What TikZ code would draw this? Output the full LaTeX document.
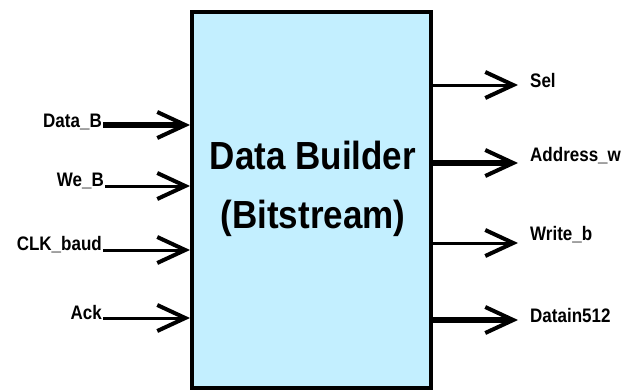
\documentclass[tikz,border=0pt]{standalone}
\usepackage{fontspec}
\setmainfont{Liberation Sans}
\usetikzlibrary{arrows.meta,positioning,calc}
\definecolor{blkfill}{HTML}{C3EFFF}

\tikzset{
  block/.style={draw=black,line width=4pt,fill=blkfill,minimum width=239pt,minimum height=376pt,inner sep=0pt},
  sig/.style={->,line width=3pt},
  bus/.style={->,line width=6pt},
  lbl/.style={font=\fontsize{17}{20}\selectfont\bfseries,inner sep=1pt,yscale=1.15},
}

\begin{document}
\begin{tikzpicture}[x=1pt,y=-1pt,>={Straight Barb[length=28pt,width=26pt,line width=4pt]}]
  \useasboundingbox (0,0) rectangle (625,391);
  % The block
  \node[block] (blk) at (311.5,200) {};
  \node[align=center,yscale=1.12,font=\fontsize{35}{53}\selectfont\bfseries] (title) at (313,189) {Data Builder\\(Bitstream)};
  % Inputs
  \coordinate (dB) at (103,125);
  \coordinate (wB) at (105,186);
  \coordinate (clk) at (103,250);
  \coordinate (ack) at (103,318);
  \node[lbl,left=0pt of dB,yshift=3pt] (dBl) {Data\_B};
  \node[lbl,left=0pt of wB,yshift=4pt] (wBl) {We\_B};
  \node[lbl,left=0pt of clk,yshift=5pt] (clkl) {CLK\_baud};
  \node[lbl,left=0pt of ack,yshift=5pt] (ackl) {Ack};
  \draw[bus] (dB) -- (dB -| blk.west);
  \draw[sig] (wB) -- (wB -| blk.west);
  \draw[sig] (clk) -- (clk -| blk.west);
  \draw[sig] (ack) -- (ack -| blk.west);
  % Outputs
  \coordinate (sel) at (518,85);
  \coordinate (adr) at (518,163);
  \coordinate (wrb) at (518,243);
  \coordinate (din) at (518,320);
  \draw[sig] (sel -| blk.east) -- (sel);
  \draw[bus] (adr -| blk.east) -- (adr);
  \draw[sig] (wrb -| blk.east) -- (wrb);
  \draw[bus] (din -| blk.east) -- (din);
  \node[lbl,right=11pt of sel,yshift=4pt] (sell) {Sel};
  \node[lbl,right=11pt of adr,yshift=6pt] (adrl) {Address\_w};
  \node[lbl,right=11pt of wrb,yshift=7pt] (wrbl) {Write\_b};
  \node[lbl,right=11pt of din,yshift=4pt] (dinl) {Datain512};
\end{tikzpicture}
\end{document}
